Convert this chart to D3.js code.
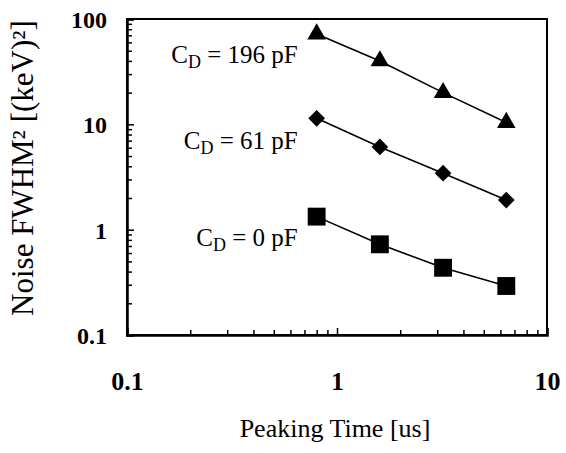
<!DOCTYPE html>
<html>
<head>
<meta charset="utf-8">
<script src="https://cdn.jsdelivr.net/npm/d3@7"></script>
<style>
  body { margin: 0; background: #fff; }
  text { font-family: "Liberation Serif", "Times New Roman", serif; fill: #000; }
  .tick text { font-weight: bold; }
  .axis path, .axis line { stroke: #000; }
</style>
</head>
<body>
<div class="canvas"></div>
<script>
// peaking times [us]
var peakingTimes = [0.8, 1.6, 3.2, 6.4];
// noise FWHM^2 [(keV)^2] for each detector capacitance
var cd196 = [72, 40, 20, 10.4];
var cd61 = [11.4, 6.1, 3.44, 1.91];
var cd0 = [1.33, 0.726, 0.435, 0.292];
var seriesNames = ["196", "61", "0"];
var xTicks = [0.1, 1, 10];
var yTicks = [0.1, 1, 10, 100];

var width = 566, height = 453;
var plotLeft = 127, plotRight = 547, plotTop = 19, plotBottom = 335;

var svg = d3.select(".canvas").append("svg").attr("width", width).attr("height", height);

var scaleX = d3.scaleLog().domain([0.1, 10]).range([plotLeft, plotRight]);
var scaleY = d3.scaleLog().domain([0.1, 100]).range([plotBottom, plotTop]);

// minor ticks 2..9 in every decade
function minors(lo, hi) {
  var out = [];
  for (var d = lo; d < hi; d *= 10)
    for (var k = 2; k <= 9; k++) out.push(d * k);
  return out;
}

function fmt(d) { return d < 1 ? d3.format(".1f")(d) : d3.format("d")(d); }

// frame
svg.append("rect")
  .attr("x", plotLeft).attr("y", plotTop)
  .attr("width", plotRight - plotLeft).attr("height", plotBottom - plotTop)
  .attr("fill", "none").attr("stroke", "#000").attr("stroke-width", 2);

// y axis
svg.append("g").attr("class", "axis")
  .attr("transform", "translate(" + plotLeft + ",0)")
  .call(d3.axisLeft(scaleY).tickValues(minors(0.1, 100)).tickSize(-5).tickFormat(""))
  .call(function(g) { g.select(".domain").remove(); })
  .selectAll("line").attr("stroke-width", 1.5);

var yAxis = svg.append("g").attr("class", "axis")
  .attr("transform", "translate(" + plotLeft + ",0)")
  .call(d3.axisLeft(scaleY).tickValues(yTicks).tickSize(-7).tickPadding(20).tickFormat(fmt));
yAxis.select(".domain").attr("stroke-width", 2.5);
yAxis.selectAll("line").attr("stroke-width", 1.5);
yAxis.selectAll("text").attr("font-size", 24).attr("dy", "0.35em");

// x axis
svg.append("g").attr("class", "axis")
  .attr("transform", "translate(0," + plotBottom + ")")
  .call(d3.axisBottom(scaleX).tickValues(minors(0.1, 10)).tickSize(-5).tickFormat(""))
  .call(function(g) { g.select(".domain").remove(); })
  .selectAll("line").attr("stroke-width", 1.5);

var xAxis = svg.append("g").attr("class", "axis")
  .attr("transform", "translate(0," + plotBottom + ")")
  .call(d3.axisBottom(scaleX).tickValues(xTicks).tickSize(-7).tickPadding(37).tickFormat(fmt));
xAxis.select(".domain").attr("stroke-width", 2.5);
xAxis.selectAll("line").attr("stroke-width", 1.5);
xAxis.selectAll("text").attr("font-size", 26).attr("dy", "0.71em");

// axis titles
svg.append("text")
  .attr("x", 335).attr("y", 437)
  .attr("text-anchor", "middle").attr("font-size", 26)
  .text("Peaking Time [us]");

svg.append("text")
  .attr("transform", "translate(33,168) rotate(-90)")
  .attr("text-anchor", "middle").attr("font-size", 31)
  .text("Noise FWHM\u00b2 [(keV)\u00b2]");

// series
var series = [
  {name: seriesNames[0], values: cd196, symbol: d3.symbolTriangle, size: 150, rot: 0},
  {name: seriesNames[1], values: cd61, symbol: d3.symbolSquare, size: 140, rot: 45},
  {name: seriesNames[2], values: cd0, symbol: d3.symbolSquare, size: 320, rot: 0}
];

var line = d3.line()
  .x(function(d) { return scaleX(d.x); })
  .y(function(d) { return scaleY(d.y); });

series.forEach(function(s) {
  var pts = peakingTimes.map(function(t, i) { return {x: t, y: s.values[i]}; });

  svg.append("path")
    .datum(pts)
    .attr("d", line)
    .attr("fill", "none").attr("stroke", "#000").attr("stroke-width", 1.6);

  svg.append("g").selectAll("path")
    .data(pts)
    .enter()
    .append("path")
    .attr("d", d3.symbol().type(s.symbol).size(s.size))
    .attr("transform", function(d) {
      return "translate(" + scaleX(d.x) + "," + scaleY(d.y) + ") rotate(" + s.rot + ")";
    })
    .attr("fill", "#000");

  // label left of the first point, at the level of the second one
  var lbl = svg.append("text")
    .attr("x", scaleX(peakingTimes[0]) - 19)
    .attr("y", scaleY(s.values[1]) + 2)
    .attr("text-anchor", "end").attr("font-size", 25);
  lbl.append("tspan").text("C");
  lbl.append("tspan").attr("font-size", 18).attr("dy", 5).text("D");
  lbl.append("tspan").attr("dy", -5).text(" = " + s.name + " pF");
});
</script>
</body>
</html>
